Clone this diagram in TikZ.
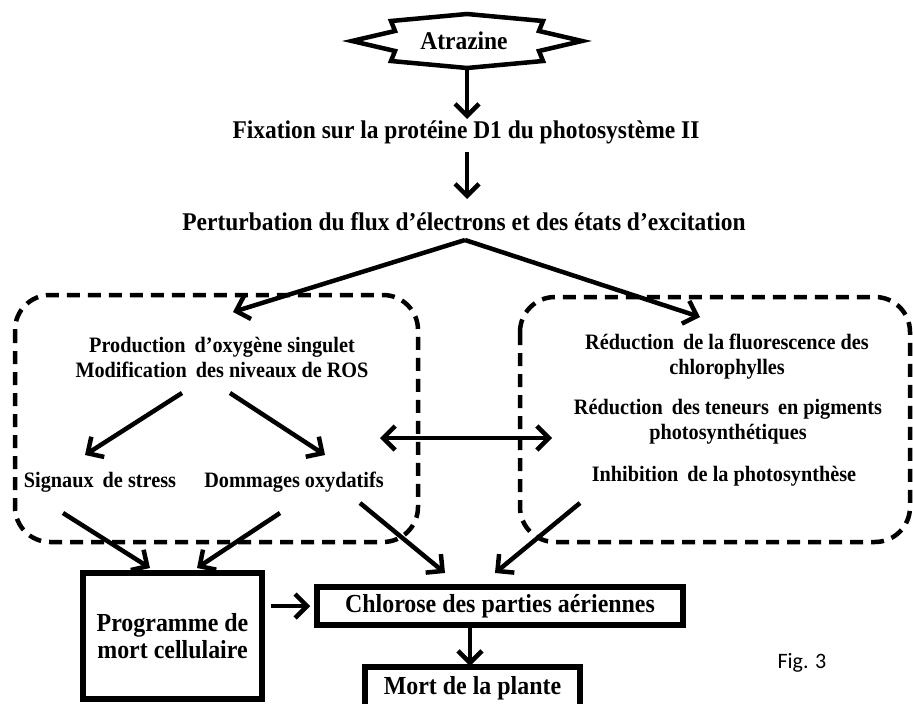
\documentclass[tikz,border=0pt]{standalone}
\usepackage{fontspec}
\setmainfont{Liberation Serif}[FakeStretch=0.92]
\newfontfamily\figfont{Carlito}
\usetikzlibrary{arrows.meta}
\newcommand{\xs}{\hspace{0.18em}}
\begin{document}
\begin{tikzpicture}[x=1pt,y=-1pt,
  tip/.tip={Straight Barb[length=12pt,width=24pt]},
  arr/.style={line width=4.5pt, -tip},
  darr/.style={line width=4.5pt, tip-tip},
  big/.style={font=\bfseries\fontsize{25.5}{28}\selectfont, align=center, inner sep=0pt},
  sm/.style={font=\bfseries\fontsize{22}{25}\selectfont, align=center, inner sep=0pt},
  solidbox/.style={draw, line width=5.5pt, align=center, inner sep=0pt, font=\bfseries\fontsize{26}{27}\selectfont},
  dbox/.style={line width=4.5pt, dash pattern=on 13pt off 8pt, rounded corners=35pt}]
\useasboundingbox (0,0) rectangle (913,704);
% Atrazine shape
\draw[line width=4.5pt, line join=miter, fill=white] (352,41) -- (395,31) -- (391,21) -- (467,14) -- (543,21) -- (539,31) -- (582,41)
  -- (539,51) -- (543,61) -- (467,68) -- (391,61) -- (395,51) -- cycle;
\node[big] (atr) at (464,41) {Atrazine};
\node[big] (fix) at (466,132) {Fixation sur la protéine D1 du photosystème II};
\node[big] (pert) at (464,222) {Perturbation du flux d’électrons et des états d’excitation};
% dashed boxes
\draw[dbox] (15,295) rectangle (418,542);
\draw[dbox] (520,297) rectangle (910,542);
\node[sm] (prod) at (222,357) {Production\xs{} d’oxygène singulet\\Modification\xs{} des niveaux de ROS};
\node[sm] (sig) at (100,482) {Signaux\xs{} de stress};
\node[sm] (dom) at (294,482) {Dommages oxydatifs};
\node[sm] (red1) at (727,357) {Réduction\xs{} de la fluorescence des\\chlorophylles};
\node[sm] (red2) at (728,422) {Réduction\xs{} des teneurs\xs{} en pigments\\photosynthétiques};
\node[sm] (inh) at (724,476) {Inhibition\xs{} de la photosynthèse};
% solid boxes
\node[solidbox, minimum width=179pt, minimum height=126pt] (prog) at (172.5,636) {Programme de\\mort cellulaire};
\node[solidbox, minimum width=366pt, minimum height=38pt] (chl) at (500,606) {Chlorose des parties aériennes};
\node[solidbox, minimum width=215pt, minimum height=42pt] (mort) at (472.5,688) {Mort de la plante};
\node[font=\figfont\fontsize{22}{26}\selectfont, inner sep=0pt] (fig) at (802,663) {Fig. 3};
% coordinates
\coordinate (a1s) at (467,68);  \coordinate (a1e) at (467,119);
\coordinate (a2s) at (467,152); \coordinate (a2e) at (467,199);
\coordinate (p0) at (465,240);
\coordinate (pl) at (233,312); \coordinate (pr) at (700,317);
\coordinate (ps1) at (182,393); \coordinate (pe1) at (85,455);
\coordinate (ps2) at (230,393); \coordinate (pe2) at (325,455);
\coordinate (dl) at (380,438); \coordinate (dr) at (552,438);
\coordinate (ss) at (63,513);  \coordinate (se) at (150,568);
\coordinate (ds) at (280,513); \coordinate (de) at (197,568);
\coordinate (ds2) at (360,503); \coordinate (de2) at (445,573);
\coordinate (rs) at (580,503); \coordinate (re) at (495,573);
\coordinate (cs) at (470,627); \coordinate (ce) at (470,666);
% arrows
\draw[arr] (a1s) -- (a1e);
\draw[arr] (a2s) -- (a2e);
\draw[arr] (p0) -- (pl);
\draw[arr] (p0) -- (pr);
\draw[arr] (ps1) -- (pe1);
\draw[arr] (ps2) -- (pe2);
\draw[darr] (dl) -- (dr);
\draw[arr] (ss) -- (se);
\draw[arr] (ds) -- (de);
\draw[arr] (ds2) -- (de2);
\draw[arr] (rs) -- (re);
\draw[arr] (prog.east |- chl) ++(6,0) coordinate (pge) -- ([xshift=-4pt]chl.west);
\draw[arr] (cs) -- (ce);
\end{tikzpicture}
\end{document}
